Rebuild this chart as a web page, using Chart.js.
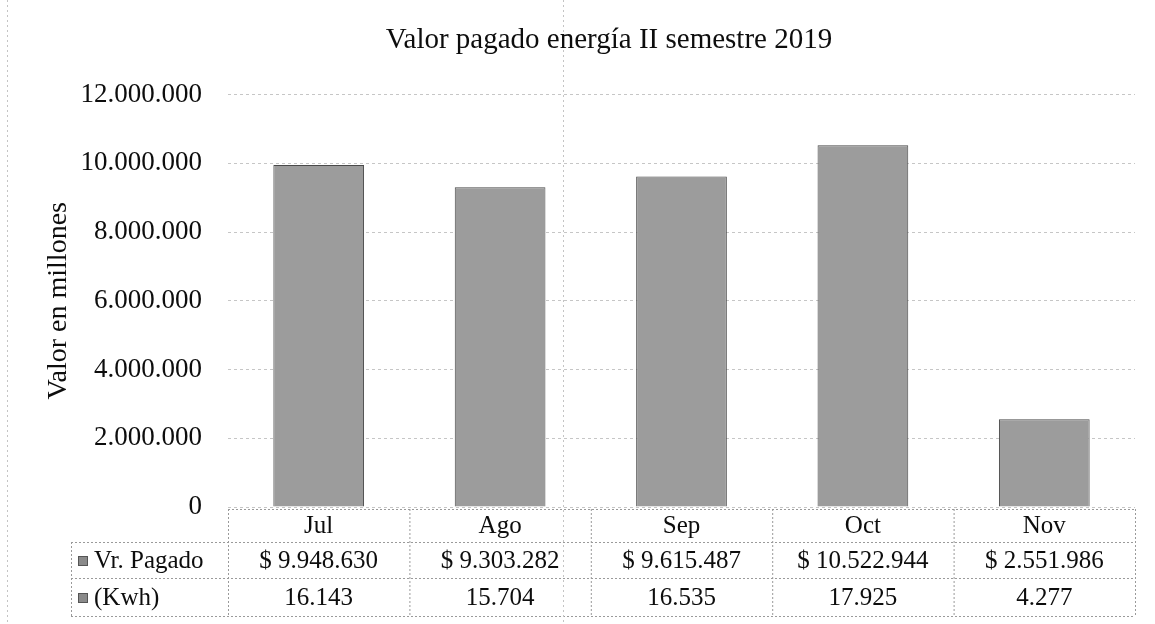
<!DOCTYPE html>
<html>
<head>
<meta charset="utf-8">
<script src="https://cdn.jsdelivr.net/npm/chart.js@4/dist/chart.umd.min.js"></script>
<style>
  html, body { margin: 0; padding: 0; background: #ffffff; }
  #wrap { width: 1155px; height: 624px; position: relative; }
</style>
</head>
<body>
<div id="wrap"><canvas id="c" width="1155" height="624"></canvas></div>
<script>
const categories = ['Jul', 'Ago', 'Sep', 'Oct', 'Nov'];
const valorPagado = [9948630, 9303282, 9615487, 10522944, 2551986];
const kwh = [16143, 15704, 16535, 17925, 4277];
const seriesNames = ['Vr. Pagado', '(Kwh)'];
const yTicks = [0, 2000000, 4000000, 6000000, 8000000, 10000000, 12000000];
const titleText = 'Valor pagado energía II semestre 2019';
const yTitle = 'Valor en millones';

const SERIF = '"Liberation Serif", "DejaVu Serif", serif';
const fmt = v => v.toLocaleString('de-DE');

const titlePlugin = {
  id: 'offsetTitle',
  afterDraw(chart) {
    const ctx = chart.ctx;
    ctx.save();
    ctx.fillStyle = '#0d0d0d';
    ctx.font = '29px ' + SERIF;
    ctx.textAlign = 'center';
    ctx.textBaseline = 'alphabetic';
    ctx.fillText(titleText, 609, 48);
    ctx.restore();
  }
};

const tablePlugin = {
  id: 'dataTable',
  afterDraw(chart) {
    const ctx = chart.ctx;
    const xs = chart.scales.x;
    const area = chart.chartArea;
    const n = categories.length;
    const colW = (area.right - area.left) / n;
    const top = area.bottom + 2;
    const rowH = [33, 36, 38];
    const y1 = top + rowH[0], y2 = y1 + rowH[1], y3 = y2 + rowH[2];
    const legLeft = 71;
    ctx.save();
    ctx.strokeStyle = '#9a9a9a';
    ctx.lineWidth = 1;
    ctx.setLineDash([2, 2]);
    const hl = (x0, x1, y) => { ctx.beginPath(); ctx.moveTo(x0, y + 0.5); ctx.lineTo(x1, y + 0.5); ctx.stroke(); };
    const vl = (x, ya, yb) => { ctx.beginPath(); ctx.moveTo(x + 0.5, ya); ctx.lineTo(x + 0.5, yb); ctx.stroke(); };
    hl(area.left, area.right, top);
    hl(legLeft, area.right, y1);
    hl(legLeft, area.right, y2);
    hl(legLeft, area.right, y3);
    vl(legLeft, y1, y3);
    for (let i = 0; i <= n; i++) vl(area.left + i * colW, top, y3);
    ctx.setLineDash([]);
    ctx.fillStyle = '#0d0d0d';
    ctx.font = '25px ' + SERIF;
    ctx.textBaseline = 'middle';
    ctx.textAlign = 'center';
    categories.forEach((c, i) => {
      const cx = xs.getPixelForValue(i);
      ctx.fillText(c, cx, (top + y1) / 2 + 1);
      ctx.fillText('$ ' + fmt(valorPagado[i]), cx, (y1 + y2) / 2 + 1);
      ctx.fillText(fmt(kwh[i]), cx, (y2 + y3) / 2 + 1);
    });
    ctx.textAlign = 'left';
    const rows = [(y1 + y2) / 2, (y2 + y3) / 2];
    rows.forEach((cy, k) => {
      ctx.fillStyle = '#8a8a8a';
      ctx.fillRect(78, cy - 4, 10, 10);
      ctx.strokeStyle = '#555';
      ctx.strokeRect(78.5, cy - 3.5, 9, 9);
      ctx.fillStyle = '#0d0d0d';
      ctx.fillText(seriesNames[k], 94, cy + 1);
    });
    // faint scan artifacts (page edge & fold)
    ctx.strokeStyle = '#c4c4c4';
    ctx.setLineDash([2, 3]);
    vl(7, 0, 624);
    vl(563, 0, 624);
    ctx.restore();
  }
};

new Chart(document.getElementById('c'), {
  type: 'bar',
  data: {
    labels: categories,
    datasets: [{
      label: seriesNames[0],
      data: valorPagado,
      backgroundColor: '#9c9c9c',
      borderColor: '#4a4a4a',
      borderWidth: 1,
      categoryPercentage: 1.0,
      barPercentage: 0.5
    }]
  },
  options: {
    responsive: false,
    animation: false,
    devicePixelRatio: 1,
    layout: { padding: { top: 0, right: 20, bottom: 117, left: 0 } },
    plugins: {
      legend: { display: false },
      tooltip: { enabled: false },
      title: {
        display: true,
        text: ' ',
        color: 'rgba(0,0,0,0)',
        font: { family: SERIF, size: 28, weight: 'normal' },
        padding: { top: 31, bottom: 30 }
      }
    },
    scales: {
      x: { display: false },
      y: {
        min: 0,
        max: 12000000,
        afterBuildTicks: s => { s.ticks = yTicks.map(v => ({ value: v })); },
        afterFit: s => { s.width = 228; },
        border: { display: false, dash: [3, 3] },
        grid: { color: '#c6c6c6', drawTicks: false, lineWidth: 1 },
        ticks: {
          color: '#0d0d0d',
          padding: 26,
          font: { family: SERIF, size: 27 },
          callback: v => fmt(v)
        },
        title: {
          display: true,
          text: yTitle,
          color: '#0d0d0d',
          font: { family: SERIF, size: 28 },
          padding: { top: 42, bottom: 0 }
        }
      }
    }
  },
  plugins: [tablePlugin, titlePlugin]
});
</script>
</body>
</html>
